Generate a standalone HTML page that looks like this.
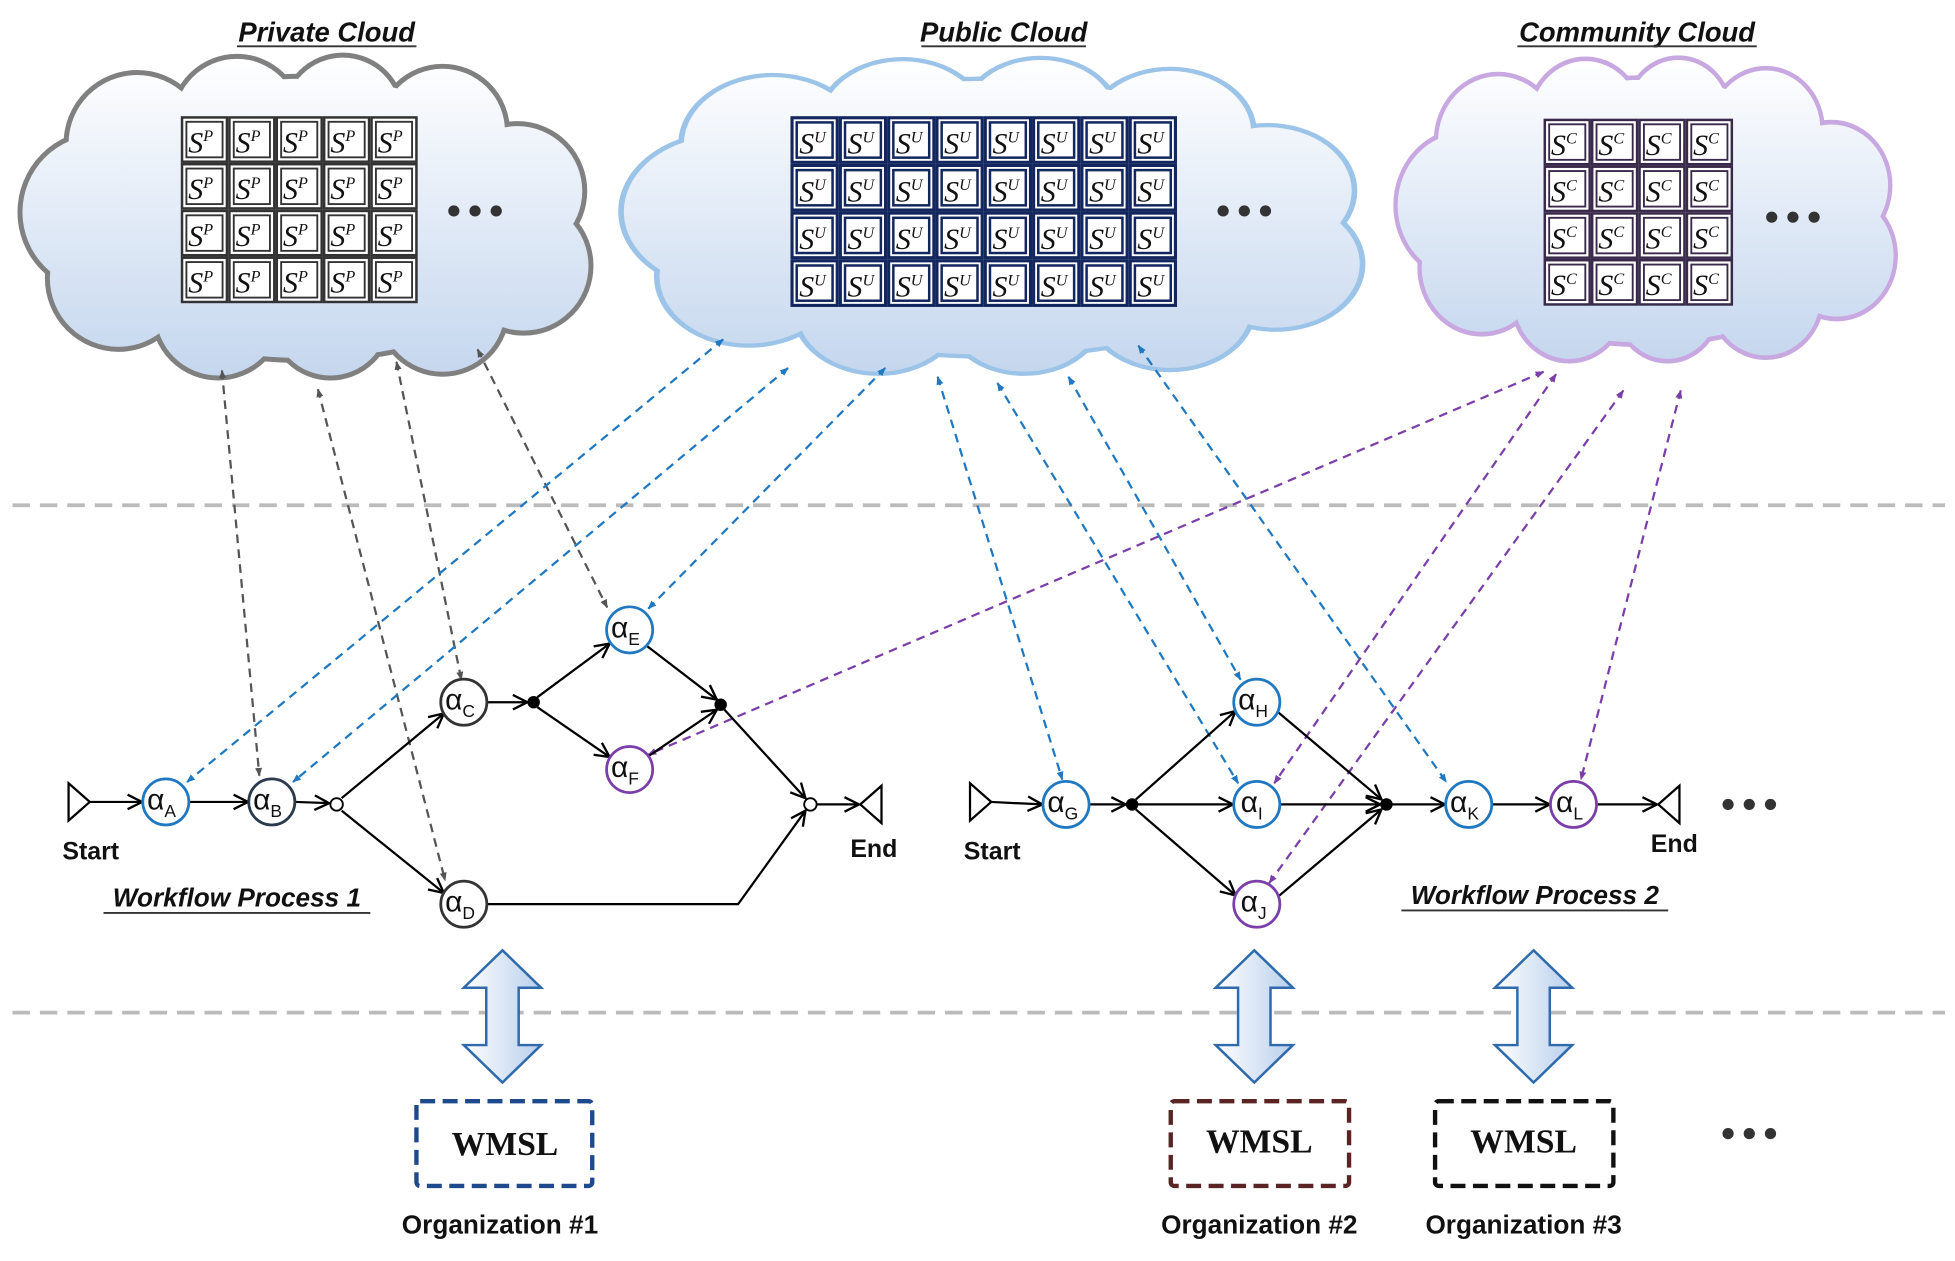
<!DOCTYPE html>
<html><head><meta charset="utf-8"><style>html,body{margin:0;padding:0;background:#fff}svg{display:block}</style></head>
<body>
<svg width="1955" height="1261" viewBox="0 0 1568 1011" xmlns="http://www.w3.org/2000/svg" font-family="Liberation Sans, sans-serif">
<defs>
<linearGradient id="cg" gradientUnits="userSpaceOnUse" x1="0" y1="0" x2="0" y2="260"><stop offset="0" stop-color="#ffffff"/><stop offset="1" stop-color="#c4d6ee"/></linearGradient>
<linearGradient id="ag" x1="0" y1="0" x2="1" y2="0"><stop offset="0" stop-color="#ffffff"/><stop offset="1" stop-color="#b8cfec"/></linearGradient>
<g id="cloudc">
<circle cx="70" cy="125" r="62"/><circle cx="100" cy="70" r="55"/><circle cx="180" cy="52" r="50"/><circle cx="265" cy="47" r="46"/><circle cx="345" cy="60" r="50"/><circle cx="405" cy="108" r="52"/><circle cx="410" cy="168" r="52"/><circle cx="345" cy="203" r="50"/><circle cx="255" cy="210" r="46"/><circle cx="165" cy="206" r="50"/><circle cx="85" cy="178" r="55"/><ellipse cx="234" cy="130" rx="205" ry="112"/>
</g>
<marker id="mg" viewBox="0 0 10 10" refX="9" refY="5" markerWidth="7" markerHeight="7" orient="auto-start-reverse" markerUnits="userSpaceOnUse"><path d="M0,1 L10,5 L0,9 z" fill="#555"/></marker>
<marker id="mb" viewBox="0 0 10 10" refX="9" refY="5" markerWidth="7" markerHeight="7" orient="auto-start-reverse" markerUnits="userSpaceOnUse"><path d="M0,1 L10,5 L0,9 z" fill="#1f78c0"/></marker>
<marker id="mp" viewBox="0 0 10 10" refX="9" refY="5" markerWidth="7" markerHeight="7" orient="auto-start-reverse" markerUnits="userSpaceOnUse"><path d="M0,1 L10,5 L0,9 z" fill="#7a3fa8"/></marker>
<marker id="ma" viewBox="0 0 12 12" refX="11" refY="6" markerWidth="14" markerHeight="14" orient="auto" markerUnits="userSpaceOnUse"><path d="M1,1 L11,6 L1,11" fill="none" stroke="#000" stroke-width="1.6"/></marker>
<g id="fp"><rect width="38" height="37.5" fill="#333"/><rect x="2" y="2" width="34" height="33.5" fill="#fff"/><rect x="4.5" y="4.5" width="29" height="28.5" fill="#fff" stroke="#333" stroke-width="1.5"/></g>
<g id="fu"><rect width="38.75" height="38.25" fill="#13265e"/><rect x="2.5" y="2.5" width="33.75" height="33.25" fill="#fff"/><rect x="5" y="5" width="28.75" height="28.25" fill="#fff" stroke="#13265e" stroke-width="2"/></g>
<g id="fc"><rect width="38" height="37.5" fill="#3a2a4a"/><rect x="2" y="2" width="34" height="33.5" fill="#fff"/><rect x="4.5" y="4.5" width="29" height="28.5" fill="#fff" stroke="#3a2a4a" stroke-width="1.5"/></g>
</defs>
<rect width="1568" height="1011" fill="#fff"/>

<!-- Clouds -->
<g transform="translate(10,45)">
<use href="#cloudc" fill="none" stroke="#808080" stroke-width="8"/>
<use href="#cloudc" fill="url(#cg)"/>
</g>
<g transform="translate(490,47) scale(1.30,0.98)">
<use href="#cloudc" fill="none" stroke="#9cc4e8" stroke-width="7"/>
<use href="#cloudc" fill="url(#cg)"/>
</g>
<g transform="translate(1114,47) scale(0.876,0.94)">
<use href="#cloudc" fill="none" stroke="#c8a8e0" stroke-width="8"/>
<use href="#cloudc" fill="url(#cg)"/>
</g>

<!-- Titles -->
<g font-style="italic" font-weight="bold" font-size="22" fill="#111" text-anchor="middle">
<text x="262" y="33">Private Cloud</text>
<text x="805" y="33">Public Cloud</text>
<text x="1313" y="33">Community Cloud</text>
</g>
<g stroke="#333" stroke-width="1.5">
<line x1="190" y1="37" x2="334" y2="37"/><line x1="739" y1="37" x2="871" y2="37"/><line x1="1217" y1="37" x2="1409" y2="37"/>
</g>

<!-- Private grid -->
<g>
<use href="#fp" x="145" y="93"/><use href="#fp" x="183" y="93"/><use href="#fp" x="221" y="93"/><use href="#fp" x="259" y="93"/><use href="#fp" x="297" y="93"/>
<use href="#fp" x="145" y="130.5"/><use href="#fp" x="183" y="130.5"/><use href="#fp" x="221" y="130.5"/><use href="#fp" x="259" y="130.5"/><use href="#fp" x="297" y="130.5"/>
<use href="#fp" x="145" y="168"/><use href="#fp" x="183" y="168"/><use href="#fp" x="221" y="168"/><use href="#fp" x="259" y="168"/><use href="#fp" x="297" y="168"/>
<use href="#fp" x="145" y="205.5"/><use href="#fp" x="183" y="205.5"/><use href="#fp" x="221" y="205.5"/><use href="#fp" x="259" y="205.5"/><use href="#fp" x="297" y="205.5"/>
</g>
<g font-family="Liberation Serif, serif" font-style="italic" font-size="24" fill="#111">
<text y="122"><tspan x="151">S</tspan><tspan dy="-9" font-size="13">P</tspan><tspan x="189" dy="9">S</tspan><tspan dy="-9" font-size="13">P</tspan><tspan x="227" dy="9">S</tspan><tspan dy="-9" font-size="13">P</tspan><tspan x="265" dy="9">S</tspan><tspan dy="-9" font-size="13">P</tspan><tspan x="303" dy="9">S</tspan><tspan dy="-9" font-size="13">P</tspan></text>
<text y="159.5"><tspan x="151">S</tspan><tspan dy="-9" font-size="13">P</tspan><tspan x="189" dy="9">S</tspan><tspan dy="-9" font-size="13">P</tspan><tspan x="227" dy="9">S</tspan><tspan dy="-9" font-size="13">P</tspan><tspan x="265" dy="9">S</tspan><tspan dy="-9" font-size="13">P</tspan><tspan x="303" dy="9">S</tspan><tspan dy="-9" font-size="13">P</tspan></text>
<text y="197"><tspan x="151">S</tspan><tspan dy="-9" font-size="13">P</tspan><tspan x="189" dy="9">S</tspan><tspan dy="-9" font-size="13">P</tspan><tspan x="227" dy="9">S</tspan><tspan dy="-9" font-size="13">P</tspan><tspan x="265" dy="9">S</tspan><tspan dy="-9" font-size="13">P</tspan><tspan x="303" dy="9">S</tspan><tspan dy="-9" font-size="13">P</tspan></text>
<text y="234.5"><tspan x="151">S</tspan><tspan dy="-9" font-size="13">P</tspan><tspan x="189" dy="9">S</tspan><tspan dy="-9" font-size="13">P</tspan><tspan x="227" dy="9">S</tspan><tspan dy="-9" font-size="13">P</tspan><tspan x="265" dy="9">S</tspan><tspan dy="-9" font-size="13">P</tspan><tspan x="303" dy="9">S</tspan><tspan dy="-9" font-size="13">P</tspan></text>
</g>

<!-- Public grid -->
<g>
<use href="#fu" x="634" y="93"/><use href="#fu" x="672.75" y="93"/><use href="#fu" x="711.5" y="93"/><use href="#fu" x="750.25" y="93"/><use href="#fu" x="789" y="93"/><use href="#fu" x="827.75" y="93"/><use href="#fu" x="866.5" y="93"/><use href="#fu" x="905.25" y="93"/>
<use href="#fu" x="634" y="131.25"/><use href="#fu" x="672.75" y="131.25"/><use href="#fu" x="711.5" y="131.25"/><use href="#fu" x="750.25" y="131.25"/><use href="#fu" x="789" y="131.25"/><use href="#fu" x="827.75" y="131.25"/><use href="#fu" x="866.5" y="131.25"/><use href="#fu" x="905.25" y="131.25"/>
<use href="#fu" x="634" y="169.5"/><use href="#fu" x="672.75" y="169.5"/><use href="#fu" x="711.5" y="169.5"/><use href="#fu" x="750.25" y="169.5"/><use href="#fu" x="789" y="169.5"/><use href="#fu" x="827.75" y="169.5"/><use href="#fu" x="866.5" y="169.5"/><use href="#fu" x="905.25" y="169.5"/>
<use href="#fu" x="634" y="207.75"/><use href="#fu" x="672.75" y="207.75"/><use href="#fu" x="711.5" y="207.75"/><use href="#fu" x="750.25" y="207.75"/><use href="#fu" x="789" y="207.75"/><use href="#fu" x="827.75" y="207.75"/><use href="#fu" x="866.5" y="207.75"/><use href="#fu" x="905.25" y="207.75"/>
</g>
<g font-family="Liberation Serif, serif" font-style="italic" font-size="24" fill="#111">
<text y="123"><tspan x="641">S</tspan><tspan dy="-9" font-size="13">U</tspan><tspan x="679.75" dy="9">S</tspan><tspan dy="-9" font-size="13">U</tspan><tspan x="718.5" dy="9">S</tspan><tspan dy="-9" font-size="13">U</tspan><tspan x="757.25" dy="9">S</tspan><tspan dy="-9" font-size="13">U</tspan><tspan x="796" dy="9">S</tspan><tspan dy="-9" font-size="13">U</tspan><tspan x="834.75" dy="9">S</tspan><tspan dy="-9" font-size="13">U</tspan><tspan x="873.5" dy="9">S</tspan><tspan dy="-9" font-size="13">U</tspan><tspan x="912.25" dy="9">S</tspan><tspan dy="-9" font-size="13">U</tspan></text>
<text y="161.25"><tspan x="641">S</tspan><tspan dy="-9" font-size="13">U</tspan><tspan x="679.75" dy="9">S</tspan><tspan dy="-9" font-size="13">U</tspan><tspan x="718.5" dy="9">S</tspan><tspan dy="-9" font-size="13">U</tspan><tspan x="757.25" dy="9">S</tspan><tspan dy="-9" font-size="13">U</tspan><tspan x="796" dy="9">S</tspan><tspan dy="-9" font-size="13">U</tspan><tspan x="834.75" dy="9">S</tspan><tspan dy="-9" font-size="13">U</tspan><tspan x="873.5" dy="9">S</tspan><tspan dy="-9" font-size="13">U</tspan><tspan x="912.25" dy="9">S</tspan><tspan dy="-9" font-size="13">U</tspan></text>
<text y="199.5"><tspan x="641">S</tspan><tspan dy="-9" font-size="13">U</tspan><tspan x="679.75" dy="9">S</tspan><tspan dy="-9" font-size="13">U</tspan><tspan x="718.5" dy="9">S</tspan><tspan dy="-9" font-size="13">U</tspan><tspan x="757.25" dy="9">S</tspan><tspan dy="-9" font-size="13">U</tspan><tspan x="796" dy="9">S</tspan><tspan dy="-9" font-size="13">U</tspan><tspan x="834.75" dy="9">S</tspan><tspan dy="-9" font-size="13">U</tspan><tspan x="873.5" dy="9">S</tspan><tspan dy="-9" font-size="13">U</tspan><tspan x="912.25" dy="9">S</tspan><tspan dy="-9" font-size="13">U</tspan></text>
<text y="237.75"><tspan x="641">S</tspan><tspan dy="-9" font-size="13">U</tspan><tspan x="679.75" dy="9">S</tspan><tspan dy="-9" font-size="13">U</tspan><tspan x="718.5" dy="9">S</tspan><tspan dy="-9" font-size="13">U</tspan><tspan x="757.25" dy="9">S</tspan><tspan dy="-9" font-size="13">U</tspan><tspan x="796" dy="9">S</tspan><tspan dy="-9" font-size="13">U</tspan><tspan x="834.75" dy="9">S</tspan><tspan dy="-9" font-size="13">U</tspan><tspan x="873.5" dy="9">S</tspan><tspan dy="-9" font-size="13">U</tspan><tspan x="912.25" dy="9">S</tspan><tspan dy="-9" font-size="13">U</tspan></text>
</g>

<!-- Community grid -->
<g>
<use href="#fc" x="1238" y="95"/><use href="#fc" x="1276" y="95"/><use href="#fc" x="1314" y="95"/><use href="#fc" x="1352" y="95"/>
<use href="#fc" x="1238" y="132.5"/><use href="#fc" x="1276" y="132.5"/><use href="#fc" x="1314" y="132.5"/><use href="#fc" x="1352" y="132.5"/>
<use href="#fc" x="1238" y="170"/><use href="#fc" x="1276" y="170"/><use href="#fc" x="1314" y="170"/><use href="#fc" x="1352" y="170"/>
<use href="#fc" x="1238" y="207.5"/><use href="#fc" x="1276" y="207.5"/><use href="#fc" x="1314" y="207.5"/><use href="#fc" x="1352" y="207.5"/>
</g>
<g font-family="Liberation Serif, serif" font-style="italic" font-size="24" fill="#111">
<text y="124"><tspan x="1244">S</tspan><tspan dy="-9" font-size="13">C</tspan><tspan x="1282" dy="9">S</tspan><tspan dy="-9" font-size="13">C</tspan><tspan x="1320" dy="9">S</tspan><tspan dy="-9" font-size="13">C</tspan><tspan x="1358" dy="9">S</tspan><tspan dy="-9" font-size="13">C</tspan></text>
<text y="161.5"><tspan x="1244">S</tspan><tspan dy="-9" font-size="13">C</tspan><tspan x="1282" dy="9">S</tspan><tspan dy="-9" font-size="13">C</tspan><tspan x="1320" dy="9">S</tspan><tspan dy="-9" font-size="13">C</tspan><tspan x="1358" dy="9">S</tspan><tspan dy="-9" font-size="13">C</tspan></text>
<text y="199"><tspan x="1244">S</tspan><tspan dy="-9" font-size="13">C</tspan><tspan x="1282" dy="9">S</tspan><tspan dy="-9" font-size="13">C</tspan><tspan x="1320" dy="9">S</tspan><tspan dy="-9" font-size="13">C</tspan><tspan x="1358" dy="9">S</tspan><tspan dy="-9" font-size="13">C</tspan></text>
<text y="236.5"><tspan x="1244">S</tspan><tspan dy="-9" font-size="13">C</tspan><tspan x="1282" dy="9">S</tspan><tspan dy="-9" font-size="13">C</tspan><tspan x="1320" dy="9">S</tspan><tspan dy="-9" font-size="13">C</tspan><tspan x="1358" dy="9">S</tspan><tspan dy="-9" font-size="13">C</tspan></text>
</g>

<!-- ellipses -->
<g fill="#333">
<circle cx="364" cy="169" r="4.5"/><circle cx="381" cy="169" r="4.5"/><circle cx="398" cy="169" r="4.5"/>
<circle cx="981" cy="169" r="4.5"/><circle cx="998" cy="169" r="4.5"/><circle cx="1015" cy="169" r="4.5"/>
<circle cx="1421" cy="174" r="4.5"/><circle cx="1438" cy="174" r="4.5"/><circle cx="1455" cy="174" r="4.5"/>
<circle cx="1386" cy="645" r="4.5"/><circle cx="1403" cy="645" r="4.5"/><circle cx="1420" cy="645" r="4.5"/>
<circle cx="1386" cy="909" r="4.5"/><circle cx="1403" cy="909" r="4.5"/><circle cx="1420" cy="909" r="4.5"/>
</g>

<!-- horizontal dashed separators -->
<g stroke="#bbb" stroke-width="3" stroke-dasharray="14,8">
<line x1="10" y1="405" x2="1560" y2="405"/>
<line x1="10" y1="812" x2="1560" y2="812"/>
</g>

<!-- dashed connectors -->
<g fill="none" stroke-width="1.8" stroke-dasharray="7,5">
<g stroke="#555" marker-start="url(#mg)" marker-end="url(#mg)">
<line x1="178" y1="297" x2="208" y2="622"/>
<line x1="255" y1="312" x2="357" y2="706"/>
<line x1="318" y1="290" x2="370" y2="545"/>
<line x1="383" y1="280" x2="487" y2="487"/>
</g>
<g stroke="#1f78c0" marker-start="url(#mb)" marker-end="url(#mb)">
<line x1="580" y1="272" x2="150" y2="627"/>
<line x1="632" y1="295" x2="235" y2="627"/>
<line x1="710" y1="295" x2="520" y2="488"/>
<line x1="752" y1="302" x2="852" y2="625"/>
<line x1="800" y1="307" x2="993" y2="628"/>
<line x1="857" y1="302" x2="995" y2="545"/>
<line x1="913" y1="277" x2="1160" y2="627"/>
</g>
<g stroke="#7a3fa8" marker-start="url(#mp)" marker-end="url(#mp)">
<line x1="1238" y1="298" x2="520" y2="605"/>
<line x1="1248" y1="300" x2="1022" y2="628"/>
<line x1="1302" y1="313" x2="1018" y2="708"/>
<line x1="1348" y1="313" x2="1268" y2="625"/>
</g>
</g>

<!-- workflow edges -->
<g fill="none" stroke="#000" stroke-width="1.8">
<polygon points="55,628 72,643 55,658" fill="#fff"/>
<polygon points="707,630 690,645 707,660" fill="#fff"/>
<polygon points="778,628 795,643 778,658" fill="#fff"/>
<polygon points="1347,630 1330,645 1347,660" fill="#fff"/>
<g marker-end="url(#ma)">
<line x1="72" y1="643" x2="114" y2="643"/>
<line x1="152" y1="643" x2="199" y2="643"/>
<line x1="237" y1="643" x2="264" y2="644"/>
<line x1="274" y1="640" x2="356" y2="572"/>
<line x1="274" y1="650" x2="356" y2="716"/>
<line x1="391" y1="563" x2="423" y2="563"/>
<line x1="431" y1="559" x2="489" y2="516"/>
<line x1="431" y1="567" x2="489" y2="607"/>
<line x1="519" y1="518" x2="575" y2="561"/>
<line x1="519" y1="607" x2="575" y2="569"/>
<line x1="581" y1="569" x2="646" y2="640"/>
<polyline points="391,725 592,725 646,650"/>
<line x1="655" y1="645" x2="689" y2="645"/>
<line x1="795" y1="643" x2="836" y2="645"/>
<line x1="874" y1="645" x2="903" y2="645"/>
<line x1="911" y1="641" x2="991" y2="570"/>
<line x1="912" y1="645" x2="989" y2="645"/>
<line x1="911" y1="649" x2="991" y2="718"/>
<line x1="1025" y1="571" x2="1108" y2="641"/>
<line x1="1027" y1="645" x2="1107" y2="645"/>
<line x1="1025" y1="719" x2="1108" y2="649"/>
<line x1="1116" y1="645" x2="1159" y2="645"/>
<line x1="1197" y1="645" x2="1243" y2="645"/>
<line x1="1281" y1="645" x2="1329" y2="645"/>
</g>
</g>
<g fill="#000">
<circle cx="428" cy="563" r="5"/><circle cx="578" cy="565" r="5"/><circle cx="908" cy="645" r="5"/><circle cx="1112" cy="645" r="5"/>
</g>
<g fill="#fff" stroke="#000" stroke-width="1.5"><circle cx="270" cy="645" r="5"/><circle cx="650" cy="645" r="5"/></g>

<!-- nodes -->
<g fill="#fff" stroke-width="2.2">
<circle cx="133" cy="643" r="18.5" stroke="#1f78c0"/>
<circle cx="218" cy="643" r="18.5" stroke="#2a3a4a"/>
<circle cx="372" cy="563" r="18.5" stroke="#333"/>
<circle cx="372" cy="725" r="18.5" stroke="#333"/>
<circle cx="505" cy="505" r="18.5" stroke="#1f78c0"/>
<circle cx="505" cy="617" r="18.5" stroke="#7a3fa8"/>
<circle cx="855" cy="645" r="18.5" stroke="#1f78c0"/>
<circle cx="1008" cy="563" r="18.5" stroke="#1f78c0"/>
<circle cx="1008" cy="645" r="18.5" stroke="#1f78c0"/>
<circle cx="1008" cy="725" r="18.5" stroke="#7a3fa8"/>
<circle cx="1178" cy="645" r="18.5" stroke="#1f78c0"/>
<circle cx="1262" cy="645" r="18.5" stroke="#7a3fa8"/>
</g>
<g font-size="24" fill="#111">
<text x="118" y="649">α<tspan font-size="14" dy="6">A</tspan></text>
<text x="203" y="649">α<tspan font-size="14" dy="6">B</tspan></text>
<text x="357" y="569">α<tspan font-size="14" dy="6">C</tspan></text>
<text x="357" y="731">α<tspan font-size="14" dy="6">D</tspan></text>
<text x="490" y="511">α<tspan font-size="14" dy="6">E</tspan></text>
<text x="490" y="623">α<tspan font-size="14" dy="6">F</tspan></text>
<text x="840" y="651">α<tspan font-size="14" dy="6">G</tspan></text>
<text x="993" y="569">α<tspan font-size="14" dy="6">H</tspan></text>
<text x="995" y="651">α<tspan font-size="14" dy="6">I</tspan></text>
<text x="995" y="731">α<tspan font-size="14" dy="6">J</tspan></text>
<text x="1163" y="651">α<tspan font-size="14" dy="6">K</tspan></text>
<text x="1248" y="651">α<tspan font-size="14" dy="6">L</tspan></text>
</g>

<!-- labels -->
<g font-weight="bold" font-size="20" fill="#111" font-family="Liberation Sans Narrow, Liberation Sans, sans-serif">
<text x="50" y="689">Start</text>
<text x="682" y="687">End</text>
<text x="773" y="689">Start</text>
<text x="1324" y="683">End</text>
</g>
<g font-style="italic" font-weight="bold" font-size="21" fill="#111" text-anchor="middle">
<text x="190" y="727">Workflow Process 1</text>
<text x="1231" y="725">Workflow Process 2</text>
</g>
<g stroke="#333" stroke-width="1.5"><line x1="83" y1="732" x2="297" y2="732"/><line x1="1124" y1="730" x2="1338" y2="730"/></g>

<!-- big double arrows -->
<g fill="url(#ag)" stroke="#2f6aac" stroke-width="2">
<polygon points="403,762 434,792 416,792 416,838 434,838 403,868 372,838 390,838 390,792 372,792"/>
<polygon points="1006,762 1037,792 1019,792 1019,838 1037,838 1006,868 975,838 993,838 993,792 975,792"/>
<polygon points="1230,762 1261,792 1243,792 1243,838 1261,838 1230,868 1199,838 1217,838 1217,792 1199,792"/>
</g>

<!-- WMSL boxes -->
<g fill="none" stroke-width="3.5" stroke-dasharray="12,6">
<rect x="334" y="883" width="141" height="68" rx="3" stroke="#1e4a8c"/>
<rect x="939" y="883" width="143" height="68" rx="3" stroke="#5a2424"/>
<rect x="1151" y="883" width="143" height="68" rx="3" stroke="#111"/>
</g>
<g font-family="Liberation Serif, serif" font-weight="bold" font-size="27" fill="#111" text-anchor="middle">
<text x="405" y="926">WMSL</text>
<text x="1010" y="924">WMSL</text>
<text x="1222" y="924">WMSL</text>
</g>
<g font-weight="bold" font-size="21" fill="#111" text-anchor="middle">
<text x="401" y="989">Organization #1</text>
<text x="1010" y="989">Organization #2</text>
<text x="1222" y="989">Organization #3</text>
</g>
</svg>
</body></html>
